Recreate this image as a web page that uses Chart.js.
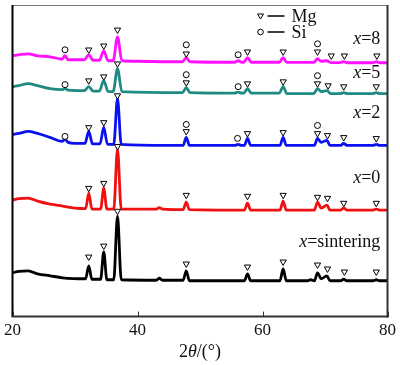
<!DOCTYPE html>
<html>
<head>
<meta charset="utf-8">
<script src="https://cdn.jsdelivr.net/npm/chart.js@4.4.1/dist/chart.umd.min.js"></script>
<style>
html,body{margin:0;padding:0;background:#fff;}
#wrap{width:400px;height:365px;position:relative;}
</style>
</head>
<body>
<div id="wrap"><canvas id="c" width="400" height="365"></canvas></div>
<script>
// ---- Data (2θ in degrees, intensity in a.u. with vertical offsets) ----
const xTicks = [20, 40, 60, 80];
const seriesNames = ["x=8", "x=5", "x=2", "x=0", "x=sintering"];

const curveX8 = [[20,262],[21,263],[22.5,264],[24,262],[26,261],[27.5,259],[27.9,258.5],[28.4,262],[28.9,258],[30,258],[31.5,258],[32.2,263],[32.9,257.5],[33.9,257.5],[34.6,267],[35.3,257],[36.1,257],[36.8,281],[37.5,257],[40,256.5],[45,256],[47.2,256],[47.8,260],[48.4,256],[55.5,255.5],[56.1,257],[56.7,255.5],[57.0,255.5],[57.6,260],[58.2,255.5],[62.7,255.5],[63.3,260],[63.9,255.3],[68.2,255.3],[68.8,259],[69.4,256.5],[70.3,257],[70.9,255.2],[72.4,255.2],[73.0,256],[73.6,255],[77.6,255],[78.2,256],[78.8,255],[80,255]];
const curveX5 = [[20,231],[21,232],[22.5,234],[24,232],[26,229],[28,228],[28.4,229],[28.9,227.5],[31.5,227],[32.2,231],[32.9,226.5],[33.9,226.5],[34.6,237],[35.3,226],[36.1,226],[36.8,249],[37.5,226],[47.2,225],[47.8,230],[48.4,225],[55.5,224.5],[56.1,225.5],[56.7,224.5],[57.0,224.5],[57.6,229],[58.2,224.5],[62.7,224.5],[63.3,231],[63.9,224],[68.2,224],[68.8,229],[69.4,226],[70.3,227],[70.9,224],[72.4,224],[73.0,225],[73.6,224],[77.6,224],[78.2,225],[78.8,224],[80,224]];
const curveX2 = [[20,183],[21,184],[22.5,186],[24,184],[26,180],[27.9,176],[28.4,178],[28.9,175],[30,174],[31.6,174],[32.2,186],[32.8,173.5],[34.0,173.5],[34.6,190],[35.2,173],[36.2,173],[36.8,219],[37.4,173],[45,172],[47.3,172],[47.8,180],[48.3,172],[55.6,172],[56.1,173],[56.6,172],[57.1,172],[57.6,179],[58.1,172],[62.8,172],[63.3,180],[63.8,172],[68.3,172],[68.8,179],[69.4,175],[70.3,177],[70.8,172],[72.5,172],[73.0,174],[73.5,172],[77.7,172],[78.2,173],[78.7,172],[80,172]];
const curveX0 = [[20,117],[21,118.5],[22.5,119],[24,116],[26,113],[28,111],[30,109],[31.7,108.5],[32.2,124],[32.7,108],[34.1,108],[34.6,129],[35.1,108],[36.2,108],[36.8,168],[37.4,108],[43,108],[43.5,109.5],[44,108],[47.3,107.5],[47.8,115],[48.3,107.5],[57.1,107],[57.6,114],[58.1,107],[62.8,107],[63.3,116],[63.8,107],[68.3,107],[68.8,115],[69.4,109],[70.3,112],[70.8,107],[72.5,107],[73.0,109],[73.5,107],[77.7,107],[78.2,108],[78.7,107],[80,107]];
const curveSint = [[20,44],[21,45.5],[22.5,46],[24,43],[26,41],[28,39],[31.7,38],[32.2,51],[32.7,37.5],[34.1,37.5],[34.6,65],[35.1,37],[36.2,37],[36.8,101],[37.4,37],[43,36.5],[43.5,38.5],[44,36.5],[47.3,36.5],[47.8,46],[48.3,36],[57.1,36],[57.6,43],[58.1,36],[62.8,36],[63.3,48],[63.8,36],[67.2,36],[67.7,37],[68.3,36],[68.8,44],[69.4,38],[70.3,41],[70.8,36],[72.5,36],[73.0,37.5],[73.5,36],[77.7,36],[78.2,37],[78.7,36],[80,36]];

// Phase marks (▽ = Mg, ○ = Si)
const mgMarksX8 = [[32.2,268],[34.6,272],[36.8,288],[47.8,264],[57.6,266],[63.3,266],[68.8,266],[71.0,262],[73.1,262],[78.3,262]];
const siMarksX8 = [[28.4,268],[47.8,273],[56.1,263],[68.8,274]];
const mgMarksX5 = [[32.2,237],[34.6,241],[36.8,254],[47.8,235],[57.6,234],[63.3,236],[68.8,234],[70.5,232],[73.0,231],[78.2,231]];
const siMarksX5 = [[28.4,233],[47.8,243],[56.1,231],[68.8,242]];
const mgMarksX2 = [[32.2,190],[34.6,195],[36.8,222],[47.8,186],[57.6,184],[63.3,185],[68.8,184],[70.4,182],[73.0,180],[78.2,179]];
const siMarksX2 = [[28.4,181],[47.8,193],[56.0,179],[68.8,192]];
const mgMarksX0 = [[32.2,129],[34.6,134],[36.8,171],[47.8,122],[57.6,121],[63.3,122],[68.8,120],[70.4,119],[73.0,114],[78.2,114]];
const mgMarksSint = [[32.2,60],[34.6,71],[36.8,106],[47.8,53],[57.6,50],[63.3,55],[68.8,52],[70.4,48],[73.1,45],[78.2,45]];

const seriesColors = ["#ff10ff", "#1f8a82", "#0a10f0", "#f01010", "#000000"];
const labelY = [279, 244, 204, 139, 75];

// ---- Build datasets ----
const toXY = a => a.map(p => ({x: p[0], y: p[1]}));
const curves = [curveX8, curveX5, curveX2, curveX0, curveSint];
const datasets = [];
curves.forEach((c, i) => {
  datasets.push({
    type: 'line', data: toXY(c), borderColor: seriesColors[i], borderWidth: 2.8,
    pointRadius: 0, cubicInterpolationMode: 'monotone', fill: false, order: 2
  });
});
const mgSets = [mgMarksX8, mgMarksX5, mgMarksX2, mgMarksX0, mgMarksSint];
const siSets = [siMarksX8, siMarksX5, siMarksX2];
mgSets.forEach(m => datasets.push({
  type: 'scatter', data: toXY(m), pointStyle: 'triangle', rotation: 180, pointRadius: 3.6,
  backgroundColor: '#ffffff', borderColor: '#000', borderWidth: 1, order: 1
}));
siSets.forEach(m => datasets.push({
  type: 'scatter', data: toXY(m), pointStyle: 'circle', pointRadius: 3,
  backgroundColor: '#ffffff', borderColor: '#000', borderWidth: 1, order: 1
}));

const SERIF = '"Liberation Serif", "Times New Roman", serif';

function drawMixed(ctx, parts, x, y, align) {
  let total = 0;
  const widths = parts.map(p => { ctx.font = (p[1] ? 'italic ' : '') + '18px ' + SERIF; const w = ctx.measureText(p[0]).width; total += w; return w; });
  let cx = align === 'right' ? x - total : (align === 'center' ? x - total / 2 : x);
  ctx.textBaseline = 'middle';
  ctx.textAlign = 'left';
  parts.forEach((p, i) => { ctx.font = (p[1] ? 'italic ' : '') + '18px ' + SERIF; ctx.fillText(p[0], cx, y); cx += widths[i]; });
}

const decor = {
  id: 'decor',
  afterDatasetsDraw(chart) {
    const ctx = chart.ctx, a = chart.chartArea;
    const xs = chart.scales.x, ys = chart.scales.y;
    ctx.save();
    ctx.lineCap = 'butt';
    ctx.strokeStyle = '#777'; ctx.lineWidth = 1;
    ctx.beginPath(); ctx.moveTo(a.left, a.top + 0.5); ctx.lineTo(a.right, a.top + 0.5); ctx.stroke();
    ctx.strokeStyle = '#000'; ctx.lineWidth = 2;
    ctx.beginPath(); ctx.moveTo(a.left, a.top); ctx.lineTo(a.left, a.bottom); ctx.stroke();
    ctx.strokeStyle = '#333';
    ctx.beginPath(); ctx.moveTo(a.right, a.top); ctx.lineTo(a.right, a.bottom + 1); ctx.stroke();
    ctx.beginPath(); ctx.moveTo(a.left - 1, a.bottom); ctx.lineTo(a.right + 1, a.bottom); ctx.stroke();
    ctx.lineWidth = 1; ctx.strokeStyle = '#333';
    xTicks.forEach(t => { const px = Math.round(xs.getPixelForValue(t)) + 0.5; ctx.beginPath(); ctx.moveTo(px, a.bottom); ctx.lineTo(px, a.bottom - 5); ctx.stroke(); });
    ctx.fillStyle = '#111';
    seriesNames.forEach((n, i) => {
      drawMixed(ctx, [['x', true], [n.slice(1), false]], xs.getPixelForValue(78.85), ys.getPixelForValue(labelY[i]), 'right');
    });
    const lx = a.left + 248;
    const ly1 = a.top + 11, ly2 = a.top + 27;
    ctx.strokeStyle = '#000'; ctx.lineWidth = 1; ctx.fillStyle = '#fff';
    ctx.beginPath(); ctx.moveTo(lx - 3, ly1 - 2); ctx.lineTo(lx + 3, ly1 - 2); ctx.lineTo(lx, ly1 + 3); ctx.closePath(); ctx.fill(); ctx.stroke();
    ctx.beginPath(); ctx.arc(lx, ly2, 2.8, 0, Math.PI * 2); ctx.fill(); ctx.stroke();
    ctx.lineWidth = 1.5;
    ctx.beginPath(); ctx.moveTo(lx + 7, ly1); ctx.lineTo(lx + 24, ly1); ctx.stroke();
    ctx.beginPath(); ctx.moveTo(lx + 7, ly2); ctx.lineTo(lx + 24, ly2); ctx.stroke();
    ctx.fillStyle = '#111';
    drawMixed(ctx, [['Mg', false]], lx + 31, ly1 + 1, 'left');
    drawMixed(ctx, [['Si', false]], lx + 31, ly2 + 1, 'left');
    drawMixed(ctx, [['2', false], ['θ', true], ['/(°)', false]], (a.left + a.right) / 2, 352, 'center');
    ctx.restore();
  }
};

new Chart(document.getElementById('c'), {
  data: { datasets },
  options: {
    responsive: false, animation: false,
    layout: { padding: { left: 11, right: 11, top: 1, bottom: 20 } },
    plugins: { legend: { display: false }, tooltip: { enabled: false } },
    scales: {
      x: {
        type: 'linear', min: 20, max: 80,
        afterBuildTicks: s => { s.ticks = xTicks.map(v => ({ value: v })); },
        ticks: { padding: 4, color: '#111', font: { family: SERIF, size: 17 } },
        grid: { display: false, drawTicks: false }, border: { display: false }
      },
      y: { type: 'linear', min: 0, max: 313, display: false }
    }
  },
  plugins: [decor]
});
</script>
</body>
</html>
